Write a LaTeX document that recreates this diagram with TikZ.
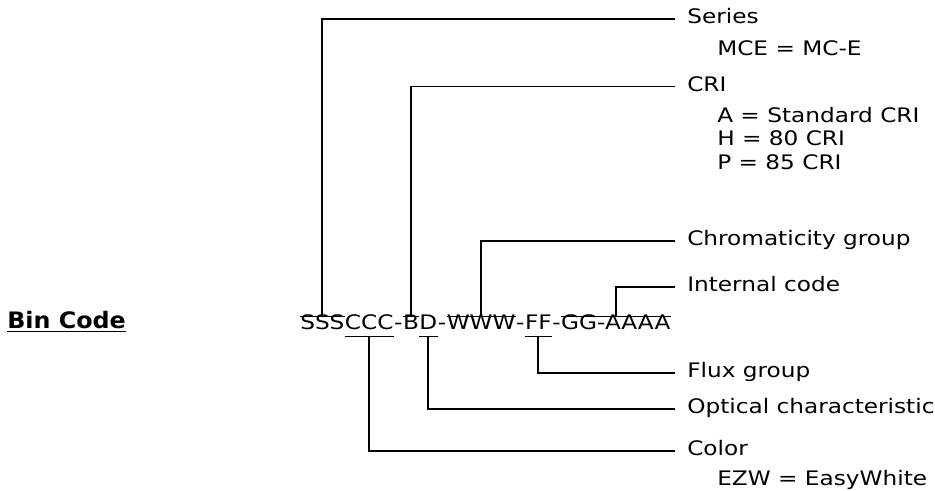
\documentclass[tikz,border=0pt]{standalone}
\usepackage{fontspec}
\setmainfont[FakeStretch=1.16]{DejaVu Sans}
\newfontfamily\titlefont[FakeStretch=1.05]{DejaVu Sans}
\usetikzlibrary{positioning}

\begin{document}
\begin{tikzpicture}[x=0.75pt,y=-0.75pt,
  every node/.style={font=\fontsize{15}{17.5}\selectfont},
  seg/.style={inner xsep=0pt,inner ysep=2.5pt,text height=0.73em,text depth=0.21em},
  lbl/.style={anchor=west,inner xsep=9pt,inner ysep=0pt,text height=0.73em,text depth=0pt},
  sub/.style={anchor=west,inner sep=0pt,text height=0.73em,text depth=0pt},
  lead/.style={line width=1.4pt},
  bar/.style={line width=0.8pt},
]
\useasboundingbox (0,0) rectangle (935,491);
% ---- title ----
\node[anchor=base west,inner sep=0pt,font=\titlefont\fontsize{17}{20}\selectfont\bfseries]
  (title) at (7,329) {\underline{Bin Code}};
% ---- the code, one node per field ----
\node[seg,anchor=west] (sss) at (300,326.5) {SSS};
\node[seg,right=0pt of sss] (ccc) {CCC};
\node[seg,right=0pt of ccc] (hA) {-};
\node[seg,right=0pt of hA] (bb) {B};
\node[seg,right=0pt of bb] (dd) {D};
\node[seg,right=0pt of dd] (hB) {-};
\node[seg,right=0pt of hB] (www) {WWW};
\node[seg,right=0pt of www] (hC) {-};
\node[seg,right=0pt of hC] (ff) {FF};
\node[seg,right=0pt of ff] (hD) {-};
\node[seg,right=0pt of hD] (gga) {GG-AAAA};
% bars over / under the fields
\draw[bar] (sss.north west) -- (sss.north east);
\draw[bar] (bb.north west) -- (bb.north east);
\draw[bar] (www.north west) -- (www.north east);
\draw[bar] (gga.north west) -- (gga.north east);
\draw[bar] (ccc.south west) -- (ccc.south east);
\draw[bar] (dd.south west) -- (dd.south east);
\draw[bar] (ff.south west) -- (ff.south east);
% ---- labels on the right ----
\node[lbl] (series) at (675,19) {Series};
\node[sub] (seriesv) at (717,50.5) {MCE = MC-E};
\node[lbl] (cri) at (675,86.5) {CRI};
\node[sub] (criA) at (717,117.5) {A = Standard CRI};
\node[sub] (criH) at (717,141) {H = 80 CRI};
\node[sub] (criP) at (717,164.5) {P = 85 CRI};
\node[lbl] (chrom) at (675,241) {Chromaticity group};
\node[lbl] (intern) at (675,287) {Internal code};
\node[lbl] (flux) at (675,373) {Flux group};
\node[lbl] (optic) at (675,409) {Optical characteristic};
\node[lbl] (color) at (675,451) {Color};
\node[sub] (colorv) at (717,481) {EZW = EasyWhite};
% ---- leader lines ----
\draw[lead] (sss.north) |- (series.west);
\draw[lead] (bb.north) |- (cri.west);
\draw[lead] (www.north) |- (chrom.west);
\draw[lead] (gga.north) |- (intern.west);
\draw[lead] (ff.south) |- (flux.west);
\draw[lead] (dd.south) |- (optic.west);
\draw[lead] (ccc.south) |- (color.west);
\end{tikzpicture}
\end{document}
